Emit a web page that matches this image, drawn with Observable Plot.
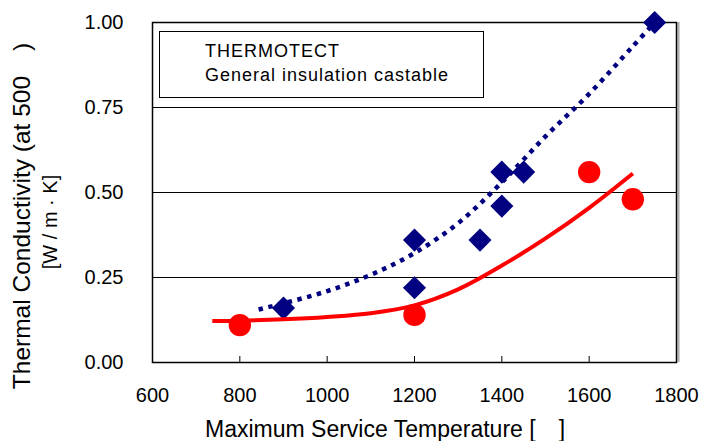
<!DOCTYPE html>
<html><head><meta charset="utf-8">
<script src="https://cdn.jsdelivr.net/npm/d3@7"></script>
<script src="https://cdn.jsdelivr.net/npm/@observablehq/plot@0.6"></script>
<style>body{margin:0;background:#fff} #chart svg{display:block}</style>
</head><body><div id="chart"></div>
<script>
// Series names
const seriesNames = ["THERMOTECT", "General insulation castable"];
// THERMOTECT measured points (diamonds)
const thermotectTemp = [900, 1200, 1200, 1350, 1400, 1400, 1450, 1750];
const thermotectK    = [0.16, 0.36, 0.22, 0.36, 0.56, 0.46, 0.56, 1.00];
// General insulation castable points (circles)
const castableTemp = [800, 1200, 1600, 1700];
const castableK    = [0.11, 0.14, 0.56, 0.48];
// Trend lines
const thermotectTrendTemp = [843, 900, 1000, 1100, 1200, 1300, 1400, 1500, 1600, 1700, 1750];
const thermotectTrendK    = [0.156, 0.174, 0.21, 0.258, 0.322, 0.41, 0.53, 0.665, 0.79, 0.93, 1.0];
const castableTrendTemp = [737, 800, 900, 1000, 1100, 1200, 1300, 1400, 1500, 1600, 1700];
const castableTrendK    = [0.122, 0.123, 0.127, 0.134, 0.145, 0.168, 0.215, 0.285, 0.365, 0.455, 0.556];
// Ticks and titles
const xTicks = [600, 800, 1000, 1200, 1400, 1600, 1800];
const yTicks = [0, 0.25, 0.5, 0.75, 1.0];
const xTitle = "Maximum Service Temperature [\u3000]";
const yTitle1 = "Thermal Conductivity (at 500\u3000)";
const yTitle2 = "[W / m \u00b7 K]";

const pts = (xs, ys) => xs.map((x, i) => ({x, y: ys[i]}));
const thermo = pts(thermotectTemp, thermotectK);
const cast = pts(castableTemp, castableK);
const thermoTrend = pts(thermotectTrendTemp, thermotectTrendK);
const castTrend = pts(castableTrendTemp, castableTrendK);

const font = "'Liberation Sans', Arial, sans-serif";
const plot = Plot.plot({
  width: 718, height: 441,
  marginLeft: 152, marginRight: 42, marginTop: 22, marginBottom: 79,
  style: {fontFamily: font, fontSize: "20px", color: "#000", background: "#fff", overflow: "visible"},
  x: {domain: [600, 1800]},
  y: {domain: [0, 1]},
  marks: [
    Plot.ruleY(yTicks, {stroke: "#000", strokeWidth: 1}),
    Plot.ruleX([1800], {stroke: "#aaa", strokeWidth: 2, dx: 2}),
    Plot.frame({stroke: "#000", strokeWidth: 1.5}),
    Plot.tickX(xTicks, {x: d => d, stroke: "#000", insetTop: 334}),
    Plot.axisX(xTicks, {tickSize: 0, tickPadding: 25, tickFormat: d => String(d), label: null, fontSize: 20}),
    Plot.axisY(yTicks, {tickSize: 0, tickPadding: 29, tickFormat: d3.format(".2f"), label: null, fontSize: 20}),
    Plot.dot(thermo, {x: "x", y: "y", symbol: "diamond2", r: 10.4, fill: "#000080", stroke: "none"}),
    Plot.dot(cast, {x: "x", y: "y", symbol: "circle", r: 11.2, fill: "#ff0000", stroke: "none"}),
    Plot.line(thermoTrend, {x: "x", y: "y", stroke: "#000080", strokeWidth: 4.5, strokeDasharray: "4.5,5.5", strokeLinecap: "butt", curve: "catmull-rom"}),
    Plot.line(castTrend, {x: "x", y: "y", stroke: "#ff0000", strokeWidth: 4, strokeLinecap: "butt", curve: "catmull-rom"})
  ]
});
document.getElementById("chart").append(plot);

const svg = d3.select(plot);
// Legend box
const lg = svg.append("g").attr("text-anchor", "start");
lg.append("rect").attr("x", 159.5).attr("y", 31.5).attr("width", 324).attr("height", 66)
  .attr("fill", "#fff").attr("stroke", "#000").attr("stroke-width", 1);
lg.append("text").attr("x", 205).attr("y", 57).text(seriesNames[0])
  .attr("font-family", font).attr("font-size", 18).attr("letter-spacing", 1);
lg.append("text").attr("x", 205).attr("y", 81).text(seriesNames[1])
  .attr("font-family", font).attr("font-size", 18).attr("letter-spacing", 1);
// Axis titles
svg.append("text").attr("x", 205).attr("y", 437).attr("text-anchor", "start").text(xTitle)
  .attr("font-family", font).attr("font-size", 23);
svg.append("text").attr("transform", "translate(30,216) rotate(-90)").attr("text-anchor", "middle").text(yTitle1)
  .attr("font-family", font).attr("font-size", 24.5);
svg.append("text").attr("transform", "translate(57,222) rotate(-90)").attr("text-anchor", "middle").text(yTitle2)
  .attr("font-family", font).attr("font-size", 20);
</script></body></html>
